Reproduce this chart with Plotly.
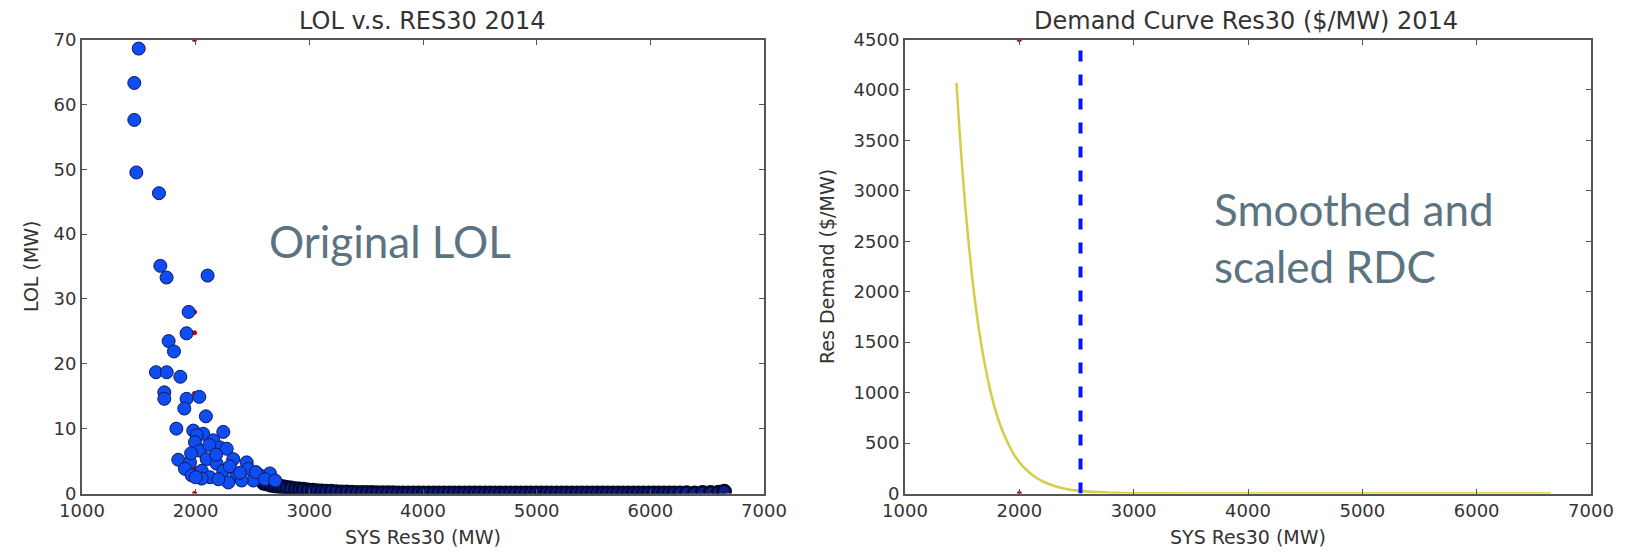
import plotly.graph_objects as go

# ---------------- data ----------------
# Left panel: LOL vs SYS Res30 (scattered points)
lol_x = [1499, 1460, 1460, 1478, 1677, 1689, 1744, 2105, 1938, 1920, 1762, 1809,
         1651, 1745, 1865, 1724, 1724, 1920, 2032, 1900, 2090, 1830,
         1979, 2067, 2243, 2010, 1994, 2155, 2214, 2038, 2273, 2120, 1847, 1950,
         2097, 2185, 2331, 2449, 1906, 2053, 2243, 2463, 1965, 2126, 2360, 2653,
         2565, 2053, 2287, 2507, 2405, 1960, 2180, 2300, 2390, 2000, 2200, 2530,
         2610, 2700]
lol_y = [68.6, 63.3, 57.6, 49.5, 46.3, 35.1, 33.3, 33.6, 28.0, 24.7, 23.5, 21.9,
         18.7, 18.7, 18.0, 15.6, 14.6, 14.6, 14.9, 13.1, 11.9, 10.0,
         9.7, 9.2, 9.5, 9.0, 7.9, 8.2, 7.1, 6.6, 6.9, 7.5, 5.2, 4.8,
         5.3, 4.6, 5.3, 4.8, 3.8, 3.5, 3.5, 3.8, 2.8, 2.5, 2.8, 3.1,
         2.8, 2.3, 1.7, 2.0, 2.0, 6.2, 6.0, 4.2, 3.2, 2.5, 2.2, 3.3,
         2.2, 2.0]

# Left panel: dense band of near-zero LOL hours
tail_x = [2600, 2630, 2665, 2700, 2735, 2770, 2805, 2840, 2880, 2915, 2950, 2990,
          3030, 3070, 3110, 3150, 3195, 3240, 3285, 3330, 3375, 3420, 3465, 3510,
          3555, 3600, 3645, 3690, 3735, 3780, 3825, 3870, 3915, 3960, 4005, 4050,
          4095, 4140, 4185, 4230, 4275, 4320, 4365, 4410, 4455, 4500, 4545, 4590,
          4635, 4680, 4725, 4770, 4815, 4860, 4905, 4950, 4995, 5040, 5085, 5130,
          5175, 5220, 5265, 5310, 5355, 5400, 5445, 5490, 5535, 5580, 5625, 5670,
          5715, 5760, 5805, 5850, 5895, 5940, 5985, 6030, 6075, 6120, 6165, 6210,
          6260, 6320, 6390, 6460, 6530, 6600, 6650]
tail_y = [1.6, 1.5, 1.3, 1.2, 1.1, 1.0, 0.9, 0.8, 0.7, 0.65, 0.6, 0.5,
          0.45, 0.4, 0.35, 0.3, 0.3, 0.25, 0.2, 0.2, 0.15, 0.12, 0.1, 0.1,
          0.1, 0.08, 0.08, 0.06, 0.06, 0.05, 0.05, 0.05, 0.05, 0.04, 0.04, 0.04,
          0.04, 0.03, 0.03, 0.03, 0.03, 0.03, 0.03, 0.02, 0.02, 0.02, 0.02, 0.02,
          0.02, 0.02, 0.02, 0.02, 0.02, 0.02, 0.02, 0.02, 0.02, 0.02, 0.02, 0.02,
          0.02, 0.02, 0.02, 0.02, 0.02, 0.02, 0.02, 0.02, 0.02, 0.02, 0.02, 0.02,
          0.02, 0.02, 0.02, 0.02, 0.02, 0.02, 0.02, 0.02, 0.02, 0.02, 0.05, 0.05,
          0.05, 0.08, 0.05, 0.1, 0.1, 0.15, 0.3]

# Left panel: red points mostly hidden below the blue ones
red_x = [1990, 1990, 1990, 1990, 1990, 1990, 1990]
red_y = [70, 28, 24.8, 15.4, 9, 4, 0]

# Right panel: smoothed and scaled demand curve
rdc_x = [1450, 1475, 1500, 1525, 1550, 1575, 1600, 1650, 1700, 1750, 1800, 1850,
         1900, 1950, 2000, 2100, 2200, 2300, 2400, 2500, 2600, 2800, 3000, 3500,
         4000, 5000, 6000, 6650]
rdc_y = [4070, 3630, 3230, 2880, 2560, 2280, 2020, 1600, 1270, 1000, 790, 630,
         500, 390, 310, 195, 122, 77, 48, 30, 19, 8, 3, 1,
         0, 0, 0, 0]
cutoff_x = [2535, 2535]
cutoff_y = [0, 4500]
red2_x = [2000, 2000]
red2_y = [4500, 0]

x_ticks = [1000, 2000, 3000, 4000, 5000, 6000, 7000]
lol_ticks = [0, 10, 20, 30, 40, 50, 60, 70]
rdc_ticks = [0, 500, 1000, 1500, 2000, 2500, 3000, 3500, 4000, 4500]

# ---------------- figure ----------------
# page is 1627x556; the html body has an 8px margin, so the figure starts at (8, 8)
OFF = 8
W, H = 1627 - 2 * OFF, 556 - 2 * OFF
FONT = "DejaVu Sans"
TXT = "#333333"


def fx(px):
    return (px - OFF) / W


def fy(py):
    return 1 - (py - OFF) / H


fig = go.Figure()

fig.add_trace(go.Scatter(x=red_x, y=red_y, mode="markers", xaxis="x", yaxis="y",
                         marker=dict(size=5, color="#cc0000", line=dict(width=0)),
                         showlegend=False))
fig.add_trace(go.Scatter(x=tail_x, y=tail_y, mode="markers", xaxis="x", yaxis="y",
                         marker=dict(size=13, color="#0b2080",
                                     line=dict(width=2.5, color="#030930")),
                         showlegend=False))
fig.add_trace(go.Scatter(x=lol_x, y=lol_y, mode="markers", xaxis="x", yaxis="y",
                         marker=dict(size=13, color="#0f4cf2",
                                     line=dict(width=1, color="#0a1a5c")),
                         showlegend=False))

fig.add_trace(go.Scatter(x=red2_x, y=red2_y, mode="markers", xaxis="x2", yaxis="y2",
                         marker=dict(size=5, color="#cc0000", line=dict(width=0)),
                         showlegend=False))
fig.add_trace(go.Scatter(x=rdc_x, y=rdc_y, mode="lines", xaxis="x2", yaxis="y2",
                         line=dict(color="#d3ce45", width=2.5, shape="spline", smoothing=0.6),
                         showlegend=False))
fig.add_trace(go.Scatter(x=cutoff_x, y=cutoff_y, mode="lines", xaxis="x2", yaxis="y2",
                         line=dict(color="#0a14ff", width=4, dash="11px,13px"),
                         showlegend=False))

x1 = [fx(82), fx(764)]
x2 = [fx(905), fx(1591)]
ydom = [fy(493.5), fy(39.5)]

axis_common = dict(showline=True, linecolor="#555555", linewidth=2, mirror="allticks",
                   ticks="inside", ticklen=5, tickwidth=1.2, tickcolor="#555555",
                   showgrid=False, zeroline=False, automargin=False,
                   tickfont=dict(family=FONT, size=18, color=TXT))

fig.update_layout(
    template="none",
    width=W, height=H,
    margin=dict(l=0, r=0, t=0, b=0, autoexpand=False),
    paper_bgcolor="white", plot_bgcolor="white",
    showlegend=False,
    xaxis=dict(domain=x1, range=[1000, 7000], tickvals=x_ticks, anchor="y", **axis_common),
    yaxis=dict(domain=ydom, range=[0, 70], tickvals=lol_ticks, anchor="x", **axis_common),
    xaxis2=dict(domain=x2, range=[1000, 7000], tickvals=x_ticks, anchor="y2", **axis_common),
    yaxis2=dict(domain=ydom, range=[0, 4500], tickvals=rdc_ticks, anchor="x2", **axis_common),
)


def ann(text, x, y, size, color=TXT, family=FONT, angle=0, xanchor="center",
        yanchor="middle", align="center"):
    fig.add_annotation(text=text, x=fx(x), y=fy(y), xref="paper", yref="paper",
                       showarrow=False, textangle=angle, xanchor=xanchor, yanchor=yanchor,
                       align=align, font=dict(family=family, size=size, color=color))


# titles
ann("LOL v.s. RES30 2014", 422, 21, 24)
ann("Demand Curve Res30 ($/MW) 2014", 1246, 21, 24)
# axis titles
ann("SYS Res30 (MW)", 423, 537, 19)
ann("SYS Res30 (MW)", 1248, 537, 19)
ann("LOL (MW)", 31, 266, 19, angle=-90)
ann("Res Demand ($/MW)", 827, 266, 19, angle=-90)
# overlay text
SLATE = "#5c7381"
ann("Original LOL", 267, 241, 44, color=SLATE, family="Lato", xanchor="left")
ann("Smoothed and<br>scaled RDC", 1212, 237, 44, color=SLATE, family="Lato",
    xanchor="left", align="left")

fig.write_html("out.html")
